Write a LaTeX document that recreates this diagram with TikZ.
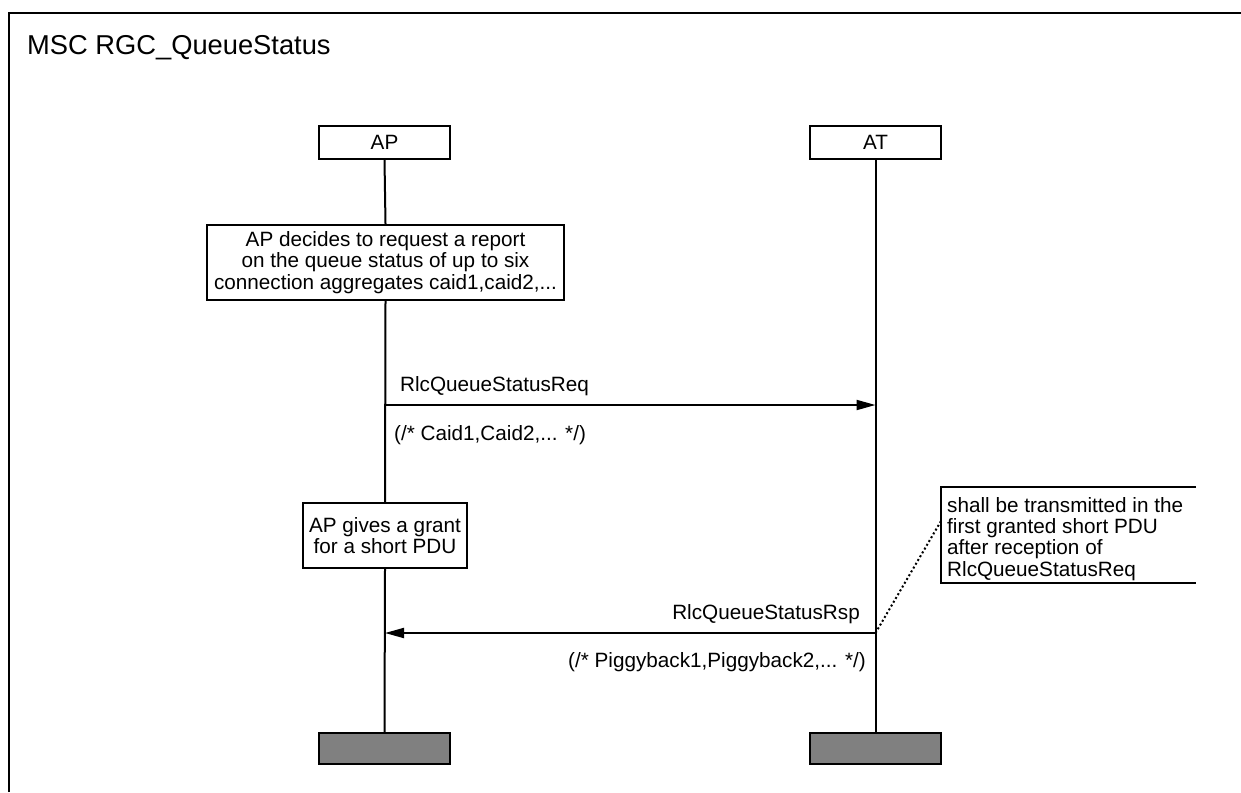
\documentclass[tikz,border=0pt]{standalone}
\usepackage{fontspec}
\setmainfont{Liberation Sans}
\usetikzlibrary{arrows.meta}
\definecolor{endgray}{RGB}{128,128,128}
\begin{document}
\begin{tikzpicture}[x=1pt,y=-1pt,
  lblfont/.style={font=\fontsize{20.7}{21.3}\selectfont},
  lbl/.style={lblfont, inner sep=0pt},
  inst/.style={draw, line width=2.4pt, minimum width=131pt, minimum height=33pt, inner sep=0pt, lblfont},
  act/.style={draw, line width=2.4pt, align=center, inner sep=0pt, lblfont},
  endbox/.style={draw, fill=endgray, line width=2.4pt, minimum width=131pt, minimum height=31pt, inner sep=0pt},
  life/.style={line width=2pt},
  msg/.style={line width=2pt, -{Triangle[length=19pt,width=10pt]}},
  cmtline/.style={line width=2.4pt},
  dots/.style={line width=2pt, dash pattern=on 2pt off 2.4pt},
]
\useasboundingbox (0,0) rectangle (1241,792);
% frame
\coordinate (frBL) at (9,792);
\coordinate (frTL) at (9,13);
\coordinate (frTR) at (1241,13);
\draw[line width=2.6pt] (frBL) -- (frTL) -- (frTR);
\node[anchor=base west, inner sep=0pt, font=\fontsize{27.3}{30}\selectfont] (title) at (27,55) {MSC RGC\_QueueStatus};

% instances
\node[inst] (APhead) at (384.5,142.5) {AP};
\node[inst] (AThead) at (875.5,142.5) {AT};

% actions
\node[act, minimum width=357pt, minimum height=75pt] (act1) at (385.5,262.5)
  {AP decides to request a report\\on the queue status of up to six\\connection aggregates caid1,caid2,...};
\node[act, minimum width=164pt, minimum height=65pt] (act2) at (385,535.5)
  {AP gives a grant\\for a short PDU};

% end boxes
\node[endbox] (APend) at (384.5,748.5) {};
\node[endbox] (ATend) at (875.5,748.5) {};

% lifelines
\draw[life] (APhead.south) -- (act1.north);
\draw[life] (act1.south) -- (act2.north);
\draw[life] (act2.south) -- (APend.north);
\draw[life] (AThead.south) -- (ATend.north);

% messages
\coordinate (reqA) at (385,405);
\coordinate (reqB) at (875.5,405);
\draw[msg] (reqA) -- (reqB);
\node[lbl, anchor=base west] (reqlbl) at (400,391) {RlcQueueStatusReq};
\node[lbl, anchor=base west] (reqpar) at (394,440) {(/* Caid1,Caid2,... */)};

\coordinate (rspA) at (875.5,633);
\coordinate (rspB) at (385,633);
\draw[msg] (rspA) -- (rspB);
\node[lbl, anchor=base east] (rsplbl) at (860,619) {RlcQueueStatusRsp};
\node[lbl, anchor=base east] (rsppar) at (866,667) {(/* Piggyback1,Piggyback2,... */)};

% comment
\coordinate (cmtTR) at (1196,487);
\coordinate (cmtTL) at (941,487);
\coordinate (cmtBL) at (941,583);
\coordinate (cmtBR) at (1196,583);
\draw[cmtline] (cmtTR) -- (cmtTL) -- (cmtBL) -- (cmtBR);
\node[lbl, anchor=north west, align=left] (cmttext) at (947,497)
  {shall be transmitted in the\\first granted short PDU\\after reception of\\RlcQueueStatusReq};
\coordinate (cmtlink) at (941,521);
\draw[dots] (rspA) -- (cmtlink);
\end{tikzpicture}
\end{document}
